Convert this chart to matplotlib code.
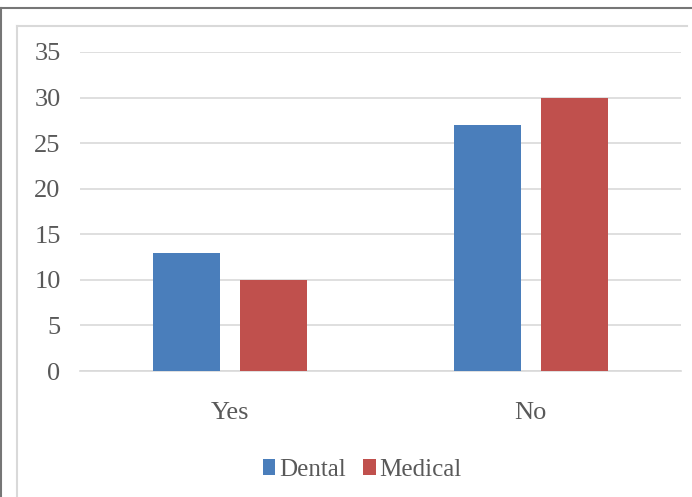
import matplotlib.pyplot as plt
import numpy as np
from matplotlib.lines import Line2D

categories = ["Yes", "No"]
series_names = ["Dental", "Medical"]
dental = [13, 27]
medical = [10, 30]
y_ticks = [0, 5, 10, 15, 20, 25, 30, 35]

plt.rcParams['font.family'] = ['Liberation Serif', 'DejaVu Serif']

fig = plt.figure(figsize=(6.92, 4.97), dpi=100)
W, H = 692, 497

# frame lines around the chart (outer dark, inner light)
def fline(x0, y0, x1, y1, color, lw):
    fig.add_artist(Line2D([x0 / W, x1 / W], [1 - y0 / H, 1 - y1 / H],
                          color=color, lw=lw, transform=fig.transFigure))

fline(1.5, 8, 692, 8, '#767676', 1.5)
fline(1.5, 8, 1.5, 497, '#767676', 1.5)
fline(16.5, 25.5, 687, 25.5, '#d9d9d9', 1.5)
fline(16.5, 25.5, 16.5, 497, '#d9d9d9', 1.5)

ax = fig.add_axes([80 / W, 1 - 371 / H, 601 / W, 319 / H])

x = np.arange(len(categories))
width = 0.223
off = 0.144
ax.bar(x - off, dental, width, color='#4a7ebb', label=series_names[0], zorder=3)
ax.bar(x + off, medical, width, color='#c0504d', label=series_names[1], zorder=3)

ax.set_xlim(-0.5, 1.5)
ax.set_ylim(0, 35)
ax.set_yticks(y_ticks)
ax.set_xticks(x)
ax.set_xticklabels(categories)
ax.grid(axis='y', color='#d9d9d9', lw=1.2, zorder=0)
for s in ['top', 'right', 'left']:
    ax.spines[s].set_visible(False)
ax.spines['bottom'].set_color('#d9d9d9')
ax.spines['bottom'].set_linewidth(1.2)
ax.tick_params(length=0, labelsize=19, colors='#595959')
ax.tick_params(axis='y', pad=14)
ax.tick_params(axis='x', pad=22)

leg = fig.legend(loc='center', bbox_to_anchor=(362 / W, 1 - 470 / H), ncol=2,
                 frameon=False, fontsize=18, handlelength=0.5, handleheight=0.6,
                 handletextpad=0.15, columnspacing=0.7)
for t in leg.get_texts():
    t.set_color('#595959')

fig.savefig('out.png', dpi=100)
